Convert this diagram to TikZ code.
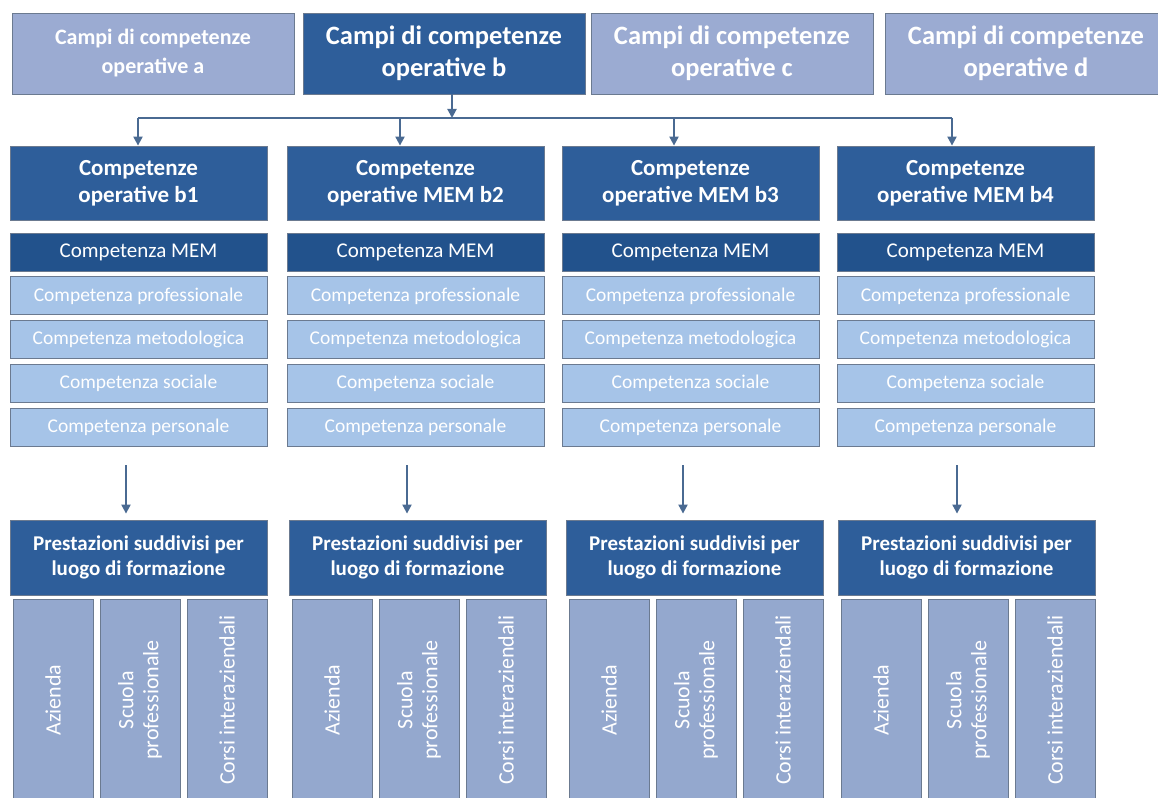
\documentclass[tikz,border=0pt]{standalone}
\usepackage{fontspec}
\setmainfont{Carlito}
\usepackage{xcolor}
\usetikzlibrary{positioning, arrows.meta}

\definecolor{headblue}{HTML}{2E5E9A}
\definecolor{memblue}{HTML}{22528C}
\definecolor{campolight}{HTML}{9BABD2}
\definecolor{rowblue}{HTML}{A6C4E8}
\definecolor{placeblue}{HTML}{94A8CE}
\definecolor{arrowblue}{HTML}{4A6A92}
\definecolor{boxline}{HTML}{6B7A90}

\begin{document}
\begin{tikzpicture}[x=1pt, y=-1pt,
  every node/.style={inner sep=0pt, align=center, text=white},
  campo/.style={draw=boxline, line width=0.8pt, fill=campolight, minimum width=282pt,
    minimum height=81pt, font=\bfseries\fontsize{26.5}{32}\selectfont},
  head/.style={draw=boxline, line width=0.8pt, fill=headblue, minimum width=257pt,
    minimum height=74pt, font=\bfseries\fontsize{23}{27}\selectfont},
  mem/.style={draw=boxline, line width=0.8pt, fill=memblue, minimum width=257pt,
    minimum height=38pt, font=\fontsize{21}{24}\selectfont},
  comp/.style={draw=boxline, line width=0.8pt, fill=rowblue, minimum width=257pt,
    minimum height=38pt, font=\fontsize{19.5}{22}\selectfont},
  prest/.style={draw=boxline, line width=0.8pt, fill=headblue, minimum width=257pt,
    minimum height=75pt, font=\bfseries\fontsize{21}{25}\selectfont},
  place/.style={draw=boxline, line width=0.8pt, fill=placeblue, rotate=90,
    minimum width=202pt, minimum height=80pt, font=\fontsize{22}{25}\selectfont},
  arr/.style={draw=arrowblue, line width=2pt, -{Triangle[length=9pt,width=9pt]}},
  busline/.style={draw=arrowblue, line width=2pt}]
\clip (0,0) rectangle (1158,797);

% fields of competence
\node[campo, font=\bfseries\fontsize{22}{29}\selectfont] (ca) at (153,53.5) {Campi di competenze\\operative a};
\node[campo, fill=headblue] (cb) at (444,53.5) {Campi di competenze\\operative b};
\node[campo] (cc) at (732,53.5) {Campi di competenze\\operative c};
\node[campo] (cd) at (1026,53.5) {Campi di competenze\\operative d};

\coordinate (bus) at (452,118);
\draw[arr] (cb.south -| bus) -- (bus);

% one column per operative competence
\foreach \i/\L/\P/\ta/\ma/\lab in {1/10/10/138/126/{operative b1},
    2/287/289/400/407/{operative MEM b2},
    3/562/566/674/683/{operative MEM b3},
    4/837/838/952/957/{operative MEM b4}} {
  \node[head] (h\i) at (\L+128.5,183) {Competenze\\\lab};
  \coordinate (k\i) at (\ta,118);
  \draw[arr] (k\i) -- (k\i |- h\i.north);

  \node[mem] (m\i) at (\L+128.5,252) {Competenza MEM};
  \node[comp, below=5pt of m\i] (pro\i) {Competenza professionale};
  \node[comp, below=5pt of pro\i] (met\i) {Competenza metodologica};
  \node[comp, below=5pt of met\i] (soc\i) {Competenza sociale};
  \node[comp, below=5pt of soc\i] (per\i) {Competenza personale};

  \node[prest] (p\i) at (\P+128.5,557.5) {Prestazioni suddivisi per\\luogo di formazione};
  \coordinate (s\i) at (\ma,465);
  \draw[arr, shorten >=6pt] (s\i) -- (s\i |- p\i.north);

  \node[place] (az\i) at (\P+43,700) {Azienda};
  \node[place] (sc\i) at (\P+130,700) {Scuola\\professionale};
  \node[place] (co\i) at (\P+217,700) {Corsi interaziendali};
}
\draw[busline] (k1) -- (k4);
\end{tikzpicture}
\end{document}
